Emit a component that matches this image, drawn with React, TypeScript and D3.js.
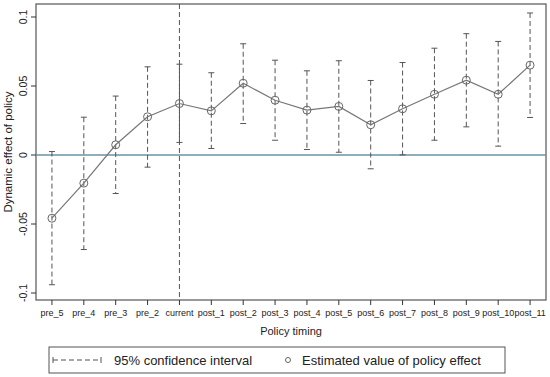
import React from 'react';
import * as d3 from 'd3';

const periods = ['pre_5', 'pre_4', 'pre_3', 'pre_2', 'current', 'post_1', 'post_2', 'post_3', 'post_4', 'post_5', 'post_6', 'post_7', 'post_8', 'post_9', 'post_10', 'post_11'];
const estimates = [-0.0458, -0.0204, 0.0074, 0.0277, 0.0373, 0.032, 0.052, 0.0397, 0.0325, 0.0352, 0.0219, 0.0335, 0.044, 0.0542, 0.044, 0.0651];
const upper = [0.0025, 0.0274, 0.0427, 0.0639, 0.0658, 0.0596, 0.0806, 0.0687, 0.061, 0.0683, 0.054, 0.067, 0.0774, 0.0879, 0.0823, 0.1029];
const lower = [-0.094, -0.0685, -0.0279, -0.0088, 0.0091, 0.0047, 0.0228, 0.0107, 0.004, 0.002, -0.01, 0.0001, 0.0107, 0.0204, 0.0064, 0.0272];
const yTicks = [-0.1, -0.05, 0, 0.05, 0.1];
const yTickLabels = ['-0.1', '-0.05', '0', '0.05', '0.1'];

const W = 550;
const H = 377;
const left = 36, right = 546, top = 4, bottom = 300;
const font = 'Liberation Sans, Arial, sans-serif';

const App: React.FC = () => {
  const x = d3.scalePoint<string>().domain(periods).range([left, right]).padding(0.5);
  const y = d3.scaleLinear().domain([-0.1, 0.1]).range([293, 17]);

  const line = d3.line<number>()
    .x((_, i) => x(periods[i]) as number)
    .y(d => y(d));

  const grey = '#555';
  const dash = '5,3';

  return (
    <svg width={W} height={H} style={{ position: 'absolute', left: 0, top: 0, background: '#fff' }} fontFamily={font}>
      <rect x={0} y={0} width={W} height={H} fill="#fff" />
      {/* plot frame */}
      <rect x={left} y={top} width={right - left} height={bottom - top} fill="none" stroke="#555" strokeWidth={1.2} />
      {/* zero line */}
      <line x1={left} x2={right} y1={y(0)} y2={y(0)} stroke="#6a93a6" strokeWidth={1.5} />
      {/* vertical reference line at current */}
      <line x1={x('current')} x2={x('current')} y1={top} y2={bottom} stroke={grey} strokeWidth={1} strokeDasharray={dash} />
      {/* confidence intervals */}
      {periods.map((p, i) => {
        const cx = x(p) as number;
        return (
          <g key={p} stroke={grey} strokeWidth={1}>
            <line x1={cx} x2={cx} y1={y(upper[i])} y2={y(lower[i])} strokeDasharray={dash} />
            <line x1={cx - 3} x2={cx + 3} y1={y(upper[i])} y2={y(upper[i])} />
            <line x1={cx - 3} x2={cx + 3} y1={y(lower[i])} y2={y(lower[i])} />
          </g>
        );
      })}
      {/* estimate line */}
      <path d={line(estimates) || ''} fill="none" stroke="#777" strokeWidth={1.2} />
      {estimates.map((v, i) => (
        <circle key={i} cx={x(periods[i]) as number} cy={y(v)} r={4} fill="none" stroke="#666" strokeWidth={1} />
      ))}
      {/* y axis ticks */}
      {yTicks.map((t, i) => (
        <g key={t}>
          <line x1={left - 5} x2={left} y1={y(t)} y2={y(t)} stroke="#333" />
          <text transform={`translate(${left - 9},${y(t)}) rotate(-90)`} textAnchor="middle" fontSize={10.5} fill="#222">{yTickLabels[i]}</text>
        </g>
      ))}
      <text transform={`translate(12,${(top + bottom) / 2}) rotate(-90)`} textAnchor="middle" fontSize={11.5} fill="#222">Dynamic effect of policy</text>
      {/* x axis ticks */}
      {periods.map(p => (
        <g key={p}>
          <line x1={x(p) as number} x2={x(p) as number} y1={bottom} y2={bottom + 5} stroke="#333" />
          <text x={x(p) as number} y={bottom + 16} textAnchor="middle" fontSize={9} fill="#222">{p}</text>
        </g>
      ))}
      <text x={(left + right) / 2} y={335} textAnchor="middle" fontSize={11} fill="#222">Policy timing</text>
      {/* legend */}
      <rect x={49} y={347} width={456} height={26} fill="#fff" stroke="#555" strokeWidth={1} />
      <g stroke={grey} strokeWidth={1}>
        <line x1={53} x2={101} y1={360} y2={360} strokeDasharray={dash} />
        <line x1={53} x2={53} y1={357} y2={363} />
        <line x1={101} x2={101} y1={357} y2={363} />
      </g>
      <text x={114} y={365} fontSize={13} fill="#222">95% confidence interval</text>
      <circle cx={288} cy={360} r={2.5} fill="none" stroke="#666" strokeWidth={1} />
      <text x={302} y={365} fontSize={13} fill="#222">Estimated value of policy effect</text>
    </svg>
  );
};

export default App;
